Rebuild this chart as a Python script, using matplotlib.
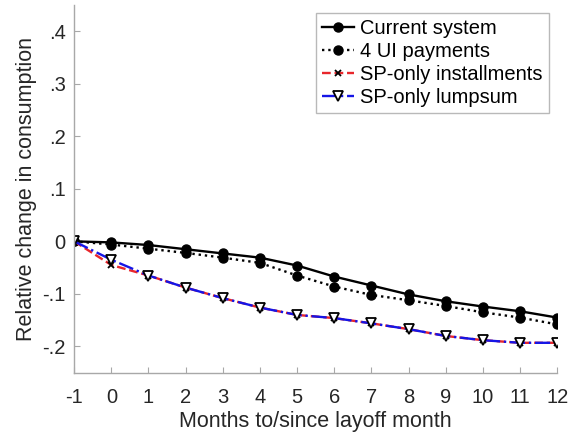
import numpy as np
import matplotlib

matplotlib.use("Agg")

import matplotlib.pyplot as plt

plt.rcParams['font.family'] = ['Liberation Sans', 'DejaVu Sans']
plt.rcParams['axes.unicode_minus'] = False

# months to/since layoff
months = [-1, 0, 1, 2, 3, 4, 5, 6, 7, 8, 9, 10, 11, 12]

current = [0, -0.002, -0.007, -0.015, -0.023, -0.031, -0.046, -0.067, -0.084, -0.101, -0.114, -0.124, -0.133, -0.145]
ui4 = [0, -0.006, -0.014, -0.022, -0.031, -0.041, -0.065, -0.086, -0.102, -0.112, -0.123, -0.135, -0.145, -0.158]
sp_inst = [0, -0.045, -0.065, -0.088, -0.108, -0.126, -0.140, -0.146, -0.156, -0.167, -0.180, -0.188, -0.193, -0.193]
sp_lump = [0, -0.035, -0.065, -0.088, -0.108, -0.126, -0.140, -0.146, -0.156, -0.167, -0.180, -0.188, -0.193, -0.193]

yticks = [-0.2, -0.1, 0, 0.1, 0.2, 0.3, 0.4]
ytick_labels = ['-.2', '-.1', '0', '.1', '.2', '.3', '.4']

fig = plt.figure(figsize=(5.75, 4.37), dpi=100)
ax = fig.add_axes([0.129, 0.147, 0.840, 0.842])

ax.plot(months, current, '-', color='black', lw=1.7, marker='o', ms=6.5,
        mfc='black', mec='black', label='Current system')
ax.plot(months, ui4, ':', color='black', lw=1.7, marker='o', ms=6.5,
        mfc='black', mec='black', label='4 UI payments')
ax.plot(months, sp_inst, '--', color='#e8262b', lw=1.7, marker='x', ms=5,
        mec='black', mew=1.3, label='SP-only installments')
ax.plot(months, sp_lump, '-.', color='#1515e6', lw=1.7, marker='v', ms=6.5,
        mfc='white', mec='black', mew=1.3, label='SP-only lumpsum')

ax.set_xlim(-1, 12)
ax.set_ylim(-0.25, 0.45)
ax.set_xticks(months)
ax.set_yticks(yticks)
ax.set_yticklabels(ytick_labels)

for s in ['top', 'right']:
    ax.spines[s].set_visible(False)
for s in ['left', 'bottom']:
    ax.spines[s].set_color('#a8a8a8')
    ax.spines[s].set_linewidth(1.0)
ax.tick_params(direction='in', length=4, color='#a8a8a8', labelsize=14.5,
               labelcolor='#262626')
ax.tick_params(axis='x', pad=11)
ax.tick_params(axis='y', pad=6)

ax.set_xlabel('Months to/since layoff month', fontsize=15.5, color='#262626', labelpad=3)
ax.set_ylabel('Relative change in consumption', fontsize=15.5, color='#262626', labelpad=4)

leg = ax.legend(loc='upper right', bbox_to_anchor=(0.983, 0.978), fontsize=14.5,
                frameon=True, fancybox=False, handlelength=1.6, handletextpad=0.3,
                borderpad=0.3, labelspacing=0.2, borderaxespad=0)
leg.get_frame().set_edgecolor('#a8a8a8')
leg.get_frame().set_linewidth(1.0)

fig.savefig('out.png', dpi=100)
